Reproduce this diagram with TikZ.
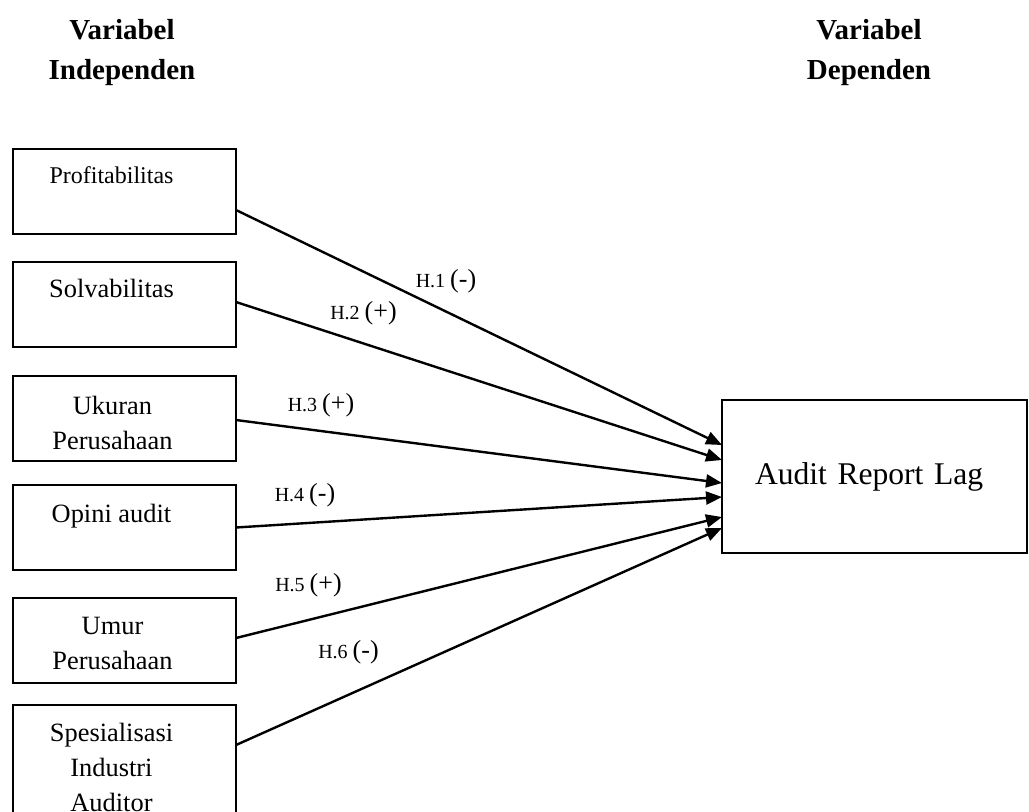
\documentclass[tikz,border=0pt]{standalone}
\usepackage{fontspec}
\setmainfont{Liberation Serif}
\usepackage{tikz}
\usetikzlibrary{arrows.meta,positioning}

\newcommand{\hsign}[1]{{\fontsize{13}{13}\selectfont(#1)}}

\begin{document}
\begin{tikzpicture}[
  varbox/.style={draw,line width=1pt,minimum width=111.5pt,
                 minimum height=42.5pt,inner sep=0pt,outer sep=0pt},
  boxtext/.style={align=center,inner sep=0pt,
                  font=\fontsize{13.2}{17.5}\selectfont},
  target/.style={draw,line width=1pt,minimum width=152.5pt,outer sep=0pt,
                 minimum height=76.5pt,text width=119.5pt,align=left,
                 inner xsep=16.5pt,font=\fontsize{15.8}{19}\selectfont},
  head/.style={align=center,font=\bfseries\fontsize{14.5}{19.7}\selectfont},
  hyp/.style={inner sep=0pt,font=\fontsize{10}{12}\selectfont},
  arrow/.style={-{Triangle[length=8pt,width=6.5pt]},line width=1.2pt}
]
\clip (0,0) rectangle (514.5pt,-405.5pt);

% headings
\node[head] (indep) at (61pt,-26.25pt) {Variabel\\Independen};
\node[head] (dep) at (434.5pt,-26.25pt) {Variabel\\Dependen};

% independent variables
\node[varbox, anchor=north west] (p1) at (6.5pt,-74.5pt) {};
\node[varbox, below=14pt of p1] (p2) {};
\node[varbox, below=14.5pt of p2] (p3) {};
\node[varbox, below=12pt of p3] (p4) {};
\node[varbox, below=14pt of p4] (p5) {};
\node[varbox, below=11pt of p5, minimum height=62pt] (p6) {};

\node[boxtext, font=\fontsize{12}{14}\selectfont] (t1)
  at ([xshift=-6.5pt,yshift=-12.9pt]p1.north) {Profitabilitas};
\node[boxtext] (t2) at ([xshift=-6.5pt,yshift=-13.2pt]p2.north) {Solvabilitas};
\node[boxtext] (t3) at ([xshift=-6pt,yshift=-23.25pt]p3.north) {Ukuran\\Perusahaan};
\node[boxtext] (t4) at ([xshift=-6.5pt,yshift=-15.5pt]p4.north) {Opini audit};
\node[boxtext] (t5) at ([xshift=-6pt,yshift=-22.5pt]p5.north) {Umur\\Perusahaan};
\node[boxtext] (t6) at ([xshift=-6.5pt,yshift=-31.25pt]p6.north) {Spesialisasi\\Industri\\Auditor};

% dependent variable
\node[target, anchor=north west] (arl) at (361pt,-200pt) {Audit Report Lag};

% hypotheses
\draw[arrow] ([yshift=-9.25pt]p1.east) -- ([yshift=-22.5pt]arl.north west);
\draw[arrow] ([yshift=1.25pt]p2.east) -- ([yshift=-30pt]arl.north west);
\draw[arrow] ([yshift=-0.75pt]p3.east) -- ([yshift=-41.5pt]arl.north west);
\draw[arrow] (p4.east) -- ([yshift=-48.5pt]arl.north west);
\draw[arrow] ([yshift=1.25pt]p5.east) -- ([yshift=-58.5pt]arl.north west);
\draw[arrow] ([yshift=-20pt]p6.north east) -- ([yshift=-64pt]arl.north west);

\node[hyp] (h1) at (223pt,-140.5pt) {H.1 \hsign{-}};
\node[hyp] (h2) at (181.75pt,-156.5pt) {H.2 \hsign{+}};
\node[hyp] (h3) at (160.5pt,-202.5pt) {H.3 \hsign{+}};
\node[hyp] (h4) at (152.5pt,-247.5pt) {H.4 \hsign{-}};
\node[hyp] (h5) at (154.25pt,-292.5pt) {H.5 \hsign{+}};
\node[hyp] (h6) at (174.25pt,-326pt) {H.6 \hsign{-}};
\end{tikzpicture}
\end{document}
